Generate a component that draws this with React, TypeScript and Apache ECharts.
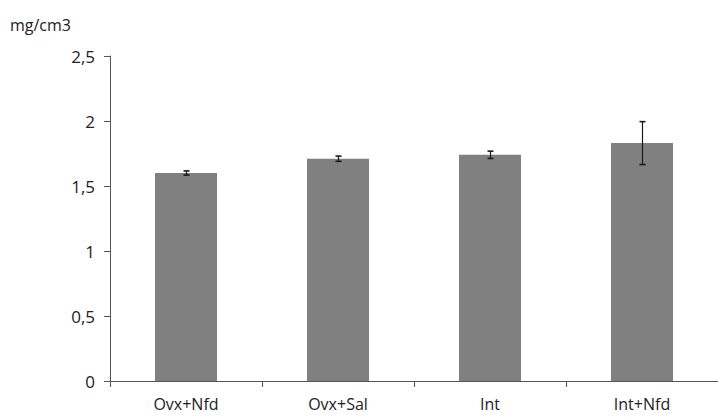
import React, { useEffect, useRef } from "react";
import * as echarts from "echarts";

const categories = ["Ovx+Nfd", "Ovx+Sal", "Int", "Int+Nfd"];
const means = [1.6, 1.71, 1.74, 1.83];
const errors = [0.016, 0.02, 0.028, 0.165];
const yTicks = [0, 0.5, 1, 1.5, 2, 2.5];
const unitLabel = "mg/cm3";

const FONT = "'Open Sans', 'DejaVu Sans', sans-serif";

export default function App() {
  const ref = useRef<HTMLDivElement>(null);
  useEffect(() => {
    if (!ref.current) return;
    const chart = echarts.init(ref.current, undefined, { renderer: "svg" });
    const errData = means.map((m, i) => [i, m - errors[i], m + errors[i]]);
    chart.setOption({
      animation: false,
      grid: { left: 110, top: 56, width: 620, height: 325, containLabel: false },
      graphic: [
        {
          type: "text",
          left: 10,
          top: 17,
          style: { text: unitLabel, font: `16px ${FONT}`, fill: "#222" },
        },
      ],
      xAxis: {
        type: "category",
        data: categories,
        boundaryGap: true,
        axisLine: { show: true, lineStyle: { color: "#555", width: 1 } },
        axisTick: { show: true, length: 6, alignWithLabel: false, lineStyle: { color: "#555" } },
        axisLabel: { color: "#222", fontSize: 16, fontFamily: FONT, margin: 15 },
        splitLine: { show: false },
      },
      yAxis: {
        type: "value",
        min: yTicks[0],
        max: yTicks[yTicks.length - 1],
        interval: 0.5,
        axisLine: { show: true, lineStyle: { color: "#555", width: 1 } },
        axisTick: { show: true, length: 6, inside: false, lineStyle: { color: "#555" } },
        axisLabel: {
          color: "#222",
          fontSize: 17,
          fontFamily: FONT,
          margin: 15,
          formatter: (v: number) => String(v).replace(".", ","),
        },
        splitLine: { show: false },
      },
      series: [
        {
          type: "bar",
          data: means,
          barWidth: 62,
          itemStyle: { color: "#808080" },
          z: 2,
        },
        {
          type: "custom",
          data: errData,
          z: 3,
          renderItem: (params: any, api: any) => {
            const x = api.value(0);
            const lo = api.coord([x, api.value(1)]);
            const hi = api.coord([x, api.value(2)]);
            const cx = Math.round(lo[0]) + 0.5;
            const half = 3;
            const style = { stroke: "#1a1a1a", lineWidth: 1.2 };
            return {
              type: "group",
              children: [
                { type: "line", shape: { x1: cx, y1: hi[1], x2: cx, y2: lo[1] }, style },
                { type: "line", shape: { x1: cx - half, y1: hi[1], x2: cx + half, y2: hi[1] }, style: { ...style, lineWidth: 1.6 } },
                { type: "line", shape: { x1: cx - half, y1: lo[1], x2: cx + half, y2: lo[1] }, style: { ...style, lineWidth: 1.6 } },
              ],
            };
          },
        },
      ],
    });
    return () => chart.dispose();
  }, []);
  return (
    <div
      ref={ref}
      style={{ position: "fixed", left: 0, top: 0, width: 718, height: 417, background: "#fff" }}
    />
  );
}
